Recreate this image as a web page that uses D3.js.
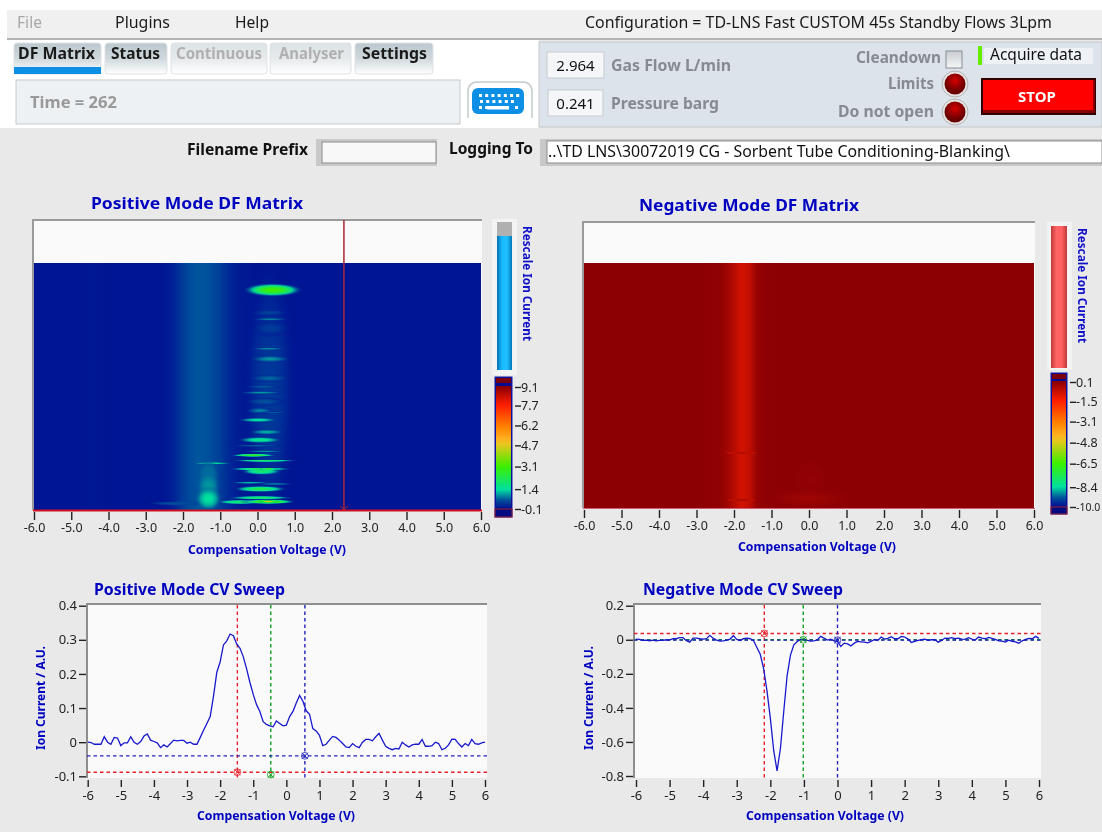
<!DOCTYPE html>
<html>
<head>
<meta charset="utf-8">
<title>TD-LNS DF Matrix</title>
<script src="https://cdn.jsdelivr.net/npm/d3@7"></script>
<style>
    html, body { margin: 0; padding: 0; background: #e9e9e9; overflow: hidden; }
    svg { display: block; filter: blur(0.45px); }
    text { font-family: "Noto Sans", "Open Sans", sans-serif; }
    .tick text { font-size: 12.5px; fill: #222; }
    .big .tick text { font-size: 13px; }
    .tick line { stroke: #222; stroke-width: 1.4; }
    .domain { display: none; }
</style>
</head>
<body>
<script>
// CV sweeps, one value every 0.1 V from -6 to 6
const posSweep = [
    0.000, -0.001, -0.006, -0.006, -0.006, 0.016, 0.000, -0.006, 0.014, 0.012,
    -0.010, -0.002, -0.002, 0.016, 0.000, -0.006, 0.002, 0.018, 0.024, 0.006,
    0.002, -0.002, -0.016, -0.008, -0.014, -0.004, 0.006, 0.004, 0.005, 0.005,
    -0.003, 0.000, -0.006, -0.006, 0.014, 0.035, 0.055, 0.075, 0.135, 0.205,
    0.235, 0.285, 0.297, 0.317, 0.312, 0.288, 0.275, 0.250, 0.215, 0.175,
    0.140, 0.110, 0.090, 0.060, 0.052, 0.048, 0.045, 0.062, 0.055, 0.048,
    0.050, 0.075, 0.090, 0.115, 0.137, 0.120, 0.092, 0.082, 0.040, 0.033,
    0.020, -0.010, -0.006, 0.006, 0.017, 0.014, 0.006, -0.004, -0.014, -0.016,
    -0.004, -0.012, -0.016, 0.000, 0.008, 0.008, 0.004, 0.016, 0.026, 0.006,
    -0.012, -0.018, -0.022, -0.018, -0.020, 0.000, -0.008, -0.014, -0.008, -0.006,
    -0.006, 0.008, -0.012, -0.012, -0.010, 0.000, -0.004, -0.022, -0.018, -0.008,
    0.009, 0.008, -0.004, -0.014, -0.004, -0.010, 0.008, -0.004, -0.006, -0.002,
    0.000
];
const negSweep = [
    0.004, 0.002, -0.004, -0.002, -0.006, -0.002, -0.006, -0.004, -0.004, 0.000,
    -0.002, 0.006, 0.006, 0.012, 0.012, -0.006, -0.014, 0.010, 0.010, 0.006,
    0.004, 0.006, 0.026, 0.008, -0.002, -0.008, -0.006, -0.002, 0.004, 0.024,
    0.002, -0.004, 0.006, 0.010, 0.006, -0.006, -0.045, -0.085, -0.170, -0.300,
    -0.460, -0.650, -0.770, -0.640, -0.420, -0.210, -0.090, -0.030, -0.010, 0.000,
    0.000, -0.004, -0.008, -0.006, 0.000, 0.020, 0.010, -0.002, 0.004, -0.006,
    -0.010, -0.040, -0.020, -0.024, -0.036, -0.020, -0.010, -0.012, -0.014, -0.018,
    -0.010, 0.002, -0.004, 0.016, 0.004, 0.008, 0.018, 0.006, 0.006, 0.020,
    0.016, 0.004, -0.016, -0.010, -0.004, 0.000, 0.004, -0.004, 0.000, 0.000,
    -0.014, -0.004, 0.010, 0.008, 0.012, 0.006, 0.010, 0.004, 0.002, 0.012,
    0.004, -0.002, 0.016, 0.010, 0.006, 0.014, 0.008, 0.002, -0.006, -0.008,
    -0.014, -0.002, -0.010, -0.012, -0.020, -0.006, 0.002, 0.008, 0.006, 0.020,
    0.008
];

// cursors on the sweeps: cv, level, colour, has a horizontal line
const posCursors = [[-1.48, -0.088, "#e8202c", true], [-0.47, -0.095, "#10a020", false], [0.56, -0.04, "#2222bb", true]];
const negCursors = [[-2.18, 0.037, "#e8202c", true], [-1.02, 0.0, "#10a020", true], [0.0, -0.002, "#2222bb", true]];

// matrix background per CV column, one value every 0.2 V from -6 to 6
const posColumns = [
    0, 0, 0, 0, 0, 0, 0, 0.02, 0.03, 0.02, 0, 0, 0, 0, 0, 0, 0, 0,
    0.04, 0.18, 0.40, 0.55, 0.62, 0.60, 0.52, 0.40, 0.22, 0.10, 0.05, 0.03,
    0, 0, 0, 0, 0, 0, 0, 0, 0, 0, 0, 0, 0, 0, 0, 0, 0, 0, 0, 0, 0, 0, 0, 0, 0, 0, 0, 0, 0, 0, 0
];
const negColumns = [
    0.1, 0.1, 0.1, 0.1, 0.1, 0.1, 0.1, 0.1, 0.1, 0.1, 0.1, 0.1, 0.1, 0.1, 0.1, 0.1, 0.1,
    0.08, 0.05, -0.10, -0.40, -0.75, -0.55, -0.05, 0.07, 0.09,
    0.1, 0.1, 0.1, 0.1, 0.1, 0.1, 0.1, 0.1, 0.1, 0.1, 0.1, 0.1, 0.1, 0.1, 0.1, 0.1, 0.1, 0.1, 0.1, 0.1,
    0.1, 0.1, 0.1, 0.1, 0.1, 0.1, 0.1, 0.1, 0.1, 0.1, 0.1, 0.1, 0.1, 0.1, 0.1
];

// features in the matrices: cv, time, half width (V), half height (time), peak ion current
const posSpots = [
    [0.33, 125, 0.55, 112, 0.36], [0.35, 192.7, 0.40, 7, 0.40], [0.32, 209.3, 0.40, 2.8, 0.45],
    [-2.0, 7, 0.70, 1.8, 0.55], [0.20, 115, 0.43, 3.5, 0.60], [0.32, 139.7, 0.45, 3.2, 0.75],
    [0.34, 202.3, 0.40, 1.4, 0.90], [0.29, 171.1, 0.40, 1.4, 0.95], [0.34, 160.2, 0.45, 3.2, 1.00],
    [0.16, 130.8, 0.40, 1.4, 0.70], [0.11, 124.5, 0.49, 1.4, 1.00], [0.07, 105.4, 0.31, 2.8, 0.90],
    [0.43, 103.3, 0.31, 1.1, 0.70], [0.02, 95.5, 0.45, 2.1, 1.50], [0.25, 82.7, 0.40, 2.5, 1.15],
    [-0.02, 68.2, 0.58, 1.1, 0.70], [0.07, 74.3, 0.49, 2.8, 1.70], [0.20, 62.2, 0.45, 1.1, 1.00],
    [-0.11, 58, 0.49, 1.4, 2.90], [0.20, 52.3, 0.72, 1.2, 2.10], [0.11, 41, 0.45, 3.2, 2.00],
    [0.07, 43.5, 0.72, 1.2, 2.40], [0.29, 43.5, 0.22, 0.7, 4.40], [-0.20, 29, 0.45, 1.2, 1.20],
    [0.47, 27.6, 0.45, 0.9, 1.00], [0.07, 22.3, 0.58, 2.8, 2.30], [0.07, 13, 0.72, 1.8, 2.00],
    [-0.47, 8.5, 0.54, 2.1, 2.00], [0.29, 8.8, 0.58, 2.1, 3.40], [0.29, 8.8, 0.20, 1.1, 4.80],
    [-1.23, 49.5, 0.40, 1.1, 1.50], [-1.32, 36, 0.22, 14, 0.80], [-1.32, 24, 0.24, 14, 1.00],
    [-1.32, 12, 0.27, 10, 1.45], [0.41, 233.4, 0.63, 5.7, 3.20]
];
const negSpots = [
    [0.05, 30, 0.35, 18, 0.02], [0.0, 10, 0.9, 9, -0.08],
    [-1.8, 59, 0.35, 1.2, -0.30], [-1.8, 8.5, 0.35, 1.0, -0.20]
];

const cvTicks = d3.range(-6, 7);
const posSweepTicks = [-0.1, 0, 0.1, 0.2, 0.3, 0.4];
const negSweepTicks = [-0.8, -0.6, -0.4, -0.2, 0, 0.2];
const posBarTicks = [9.1, 7.7, 6.2, 4.7, 3.1, 1.4, -0.1];
const negBarTicks = [0.1, -1.5, -3.1, -4.8, -6.5, -8.4, -10.0];
const matrixCursorCv = 2.32;
const matrixTime = 262;

// rainbow of the intensity graphs, low to high
const rampStops = [0, 0.075, 0.163, 0.35, 0.53, 0.58, 0.68, 0.85, 0.93, 1];
const rampColors = ["#000b92", "#00509c", "#00e0a0", "#3cf000", "#e6c81e", "#ffb020", "#ff8000", "#ff2000", "#c81000", "#8c0004"];
const ramp = d3.scaleLinear().domain(rampStops).range(rampColors).clamp(true);

// spots are drawn a bit larger than the bright core that was measured
const spotSpread = 1.35;

const svg = d3.select("body").append("svg").attr("width", 1102).attr("height", 832);
const defs = svg.append("defs");
let uid = 0;

function label(x, y, str, size, color, opts = {}) {
    const t = svg.append("text")
        .attr("x", x).attr("y", y)
        .attr("font-size", size)
        .attr("fill", color)
        .attr("font-weight", opts.bold ? 700 : 400)
        .attr("text-anchor", opts.anchor || "start")
        .text(str);
    if (opts.width) t.attr("textLength", opts.width).attr("lengthAdjust", "spacingAndGlyphs");
    return t;
}

function box(x, y, w, h, fill, stroke, r) {
    return svg.append("rect")
        .attr("x", x).attr("y", y).attr("width", w).attr("height", h)
        .attr("fill", fill).attr("stroke", stroke || "none").attr("rx", r || 0);
}

function vGradient(stops, horizontal) {
    const id = "g" + (uid++);
    const g = defs.append("linearGradient").attr("id", id)
        .attr("x1", 0).attr("y1", 0)
        .attr("x2", horizontal ? 1 : 0).attr("y2", horizontal ? 0 : 1);
    stops.forEach((c, i) => g.append("stop").attr("offset", i / (stops.length - 1)).attr("stop-color", c));
    return `url(#${id})`;
}

function led(cx, cy) {
    const id = "g" + (uid++);
    const g = defs.append("radialGradient").attr("id", id).attr("cy", "35%");
    g.append("stop").attr("offset", "0").attr("stop-color", "#d40000");
    g.append("stop").attr("offset", "1").attr("stop-color", "#6a0000");
    svg.append("circle").attr("cx", cx).attr("cy", cy).attr("r", 13).attr("fill", "#e4e4e4").attr("stroke", "#b4b4b4");
    svg.append("circle").attr("cx", cx).attr("cy", cy).attr("r", 10.5).attr("fill", `url(#${id})`);
}

function drawChrome() {
    box(0, 0, 1102, 832, "#e9e9e9");
    box(0, 0, 1102, 10, "#ffffff");
    box(0, 10, 7, 118, "#ffffff");
    box(7, 10, 1095, 28, "#f0f0f0");
    box(7, 38, 1095, 2, "#b4b4b4");
    box(7, 40, 532, 88, "#ffffff");

    label(17, 28, "File", 16, "#a8a8a8", { width: 25 });
    label(115, 28, "Plugins", 16, "#1a1a1a", { width: 55 });
    label(235, 28, "Help", 16, "#1a1a1a", { width: 34 });
    label(585, 28, "Configuration = TD-LNS Fast CUSTOM 45s Standby Flows 3Lpm", 16, "#1a1a1a", { width: 467 });

    // tabs
    const tabs = [
        [14, 87, 18, 77, "DF Matrix", "#1a1a1a"], [105, 62, 111, 49, "Status", "#1a1a1a"],
        [171, 96, 176, 86, "Continuous", "#b0b0b0"], [270, 81, 279, 65, "Analyser", "#b0b0b0"],
        [355, 78, 362, 65, "Settings", "#1a1a1a"]
    ];
    const tabFill = vGradient(["#bcc8ce", "#cfd8dc", "#ffffff"]);
    const tabFillOff = vGradient(["#dde3e6", "#e6eaec", "#ffffff"]);
    tabs.forEach(t => {
        box(t[0], 43, t[1], 31, t[5] === "#b0b0b0" ? tabFillOff : tabFill, "#dfe2e4", 3);
        label(t[2], 59, t[4], 16, t[5], { bold: true, width: t[3] });
    });
    box(14, 67, 87, 7, "#0d8fe6");

    box(16, 80, 444, 44, "#eef1f3", "#c8c8c8");
    label(30, 108, "Time = " + matrixTime, 16, "#999999", { bold: true, width: 87 });

    // keyboard button
    svg.append("path").attr("d", "M468,118V92q0,-10 10,-10h44q10,0 10,10V118")
        .attr("fill", "#ffffff").attr("stroke", "#c4cace").attr("stroke-width", 1.5);
    box(472, 88, 52, 26, "#0d8fe6", null, 6);
    [[479, 94, 7], [480, 100, 6], [479, 106, 2]].forEach(r => {
        d3.range(r[2]).forEach(i => box(r[0] + i * 6.2, r[1], 3, 3, "#ffffff"));
    });
    box(487, 106, 22, 3.5, "#ffffff");
    box(515, 106, 3, 3, "#ffffff");

    // right hand panel
    box(539, 42, 563, 85, "#dde3ea", "#c4c8cc");
    box(547, 52, 57, 26, "#f4f6f7", "#c8ccd0");
    label(575.5, 71, "2.964", 15, "#111111", { anchor: "middle" });
    label(611, 71, "Gas Flow  L/min", 15.5, "#858b90", { bold: true, width: 120 });
    box(548, 90, 55, 26, "#f4f6f7", "#c8ccd0");
    label(575.5, 109, "0.241", 15, "#111111", { anchor: "middle" });
    label(611, 109, "Pressure  barg", 15.5, "#858b90", { bold: true, width: 108 });

    label(856, 63, "Cleandown", 16, "#858b90", { bold: true, width: 85 });
    box(946, 51, 16, 17, vGradient(["#c8ccd0", "#f4f6f7"]), "#8a8e92");
    label(888, 89, "Limits", 16, "#858b90", { bold: true, width: 46 });
    label(838, 117, "Do not open", 16, "#858b90", { bold: true, width: 96 });
    led(955, 84);
    led(955, 112);

    box(984, 48, 109, 16, "#eef2f6");
    box(978, 46, 4, 19, "#66ee00");
    label(990, 60, "Acquire data", 15.5, "#111111", { width: 92 });

    box(981, 78, 115, 37, "#300000");
    box(983, 80, 112, 33, "#8a0000");
    box(983, 80, 110, 30, "#ff0000");
    label(1037, 102, "STOP", 15, "#ffffff", { bold: true, anchor: "middle" });

    // logging row
    label(187, 155, "Filename Prefix", 16, "#111111", { bold: true, width: 121 });
    box(316, 139, 121, 27, "#c8c8c8");
    box(322, 142, 114, 21, "#f8f8f8", "#8c8c8c");
    label(449, 154, "Logging To", 16, "#111111", { bold: true, width: 84 });
    box(540, 139, 562, 27, "#c8c8c8");
    box(547, 141, 555, 22, "#ffffff", "#8c8c8c");
    label(548, 157, "..\\TD LNS\\30072019 CG - Sorbent Tube Conditioning-Blanking\\", 16, "#111111", { width: 462 });
}

function drawMatrix(o) {
    const x = d3.scaleLinear().domain([-6, 6]).range(o.xRange);
    const y = d3.scaleLinear().domain([0, matrixTime]).range([o.bottom, o.heatTop]);
    const level = v => ramp((v - o.low) / (o.high - o.low));
    const heatW = o.xRange[1] - o.xRange[0];

    label(o.titleX, o.titleY, o.title, 16.5, "#0000c0", { bold: true, width: o.titleW });

    // empty part of the matrix and its frame
    box(o.xRange[0], o.top, heatW + 1, o.bottom - o.top, "#fafafa");
    svg.append("path")
        .attr("d", `M${o.xRange[0] - 1},${o.bottom}V${o.top}H${o.xRange[1] + 1}`)
        .attr("fill", "none").attr("stroke", "#9a9a9a").attr("stroke-width", 2);

    // columns as one gradient, stops placed by the x scale
    const id = "g" + (uid++);
    const columnGradient = defs.append("linearGradient").attr("id", id);
    o.columns.forEach((v, i) => {
        const cv = -6 + i * 0.2;
        columnGradient.append("stop")
            .attr("offset", (x(cv) - o.xRange[0]) / heatW)
            .attr("stop-color", level(v));
    });
    box(o.xRange[0], y(matrixTime), heatW, y(0) - y(matrixTime), `url(#${id})`);

    const clipId = "c" + (uid++);
    defs.append("clipPath").attr("id", clipId).append("rect")
        .attr("x", o.xRange[0]).attr("y", o.heatTop).attr("width", heatW).attr("height", o.bottom - o.heatTop);

    // spots fade from their peak down to the level of the column under them
    const spots = svg.append("g").attr("clip-path", `url(#${clipId})`);
    o.spots.forEach(d => {
        const base = o.columns[Math.round((d[0] + 6) / 0.2)];
        const gid = "g" + (uid++);
        const g = defs.append("radialGradient").attr("id", gid);
        d3.range(0, 1.01, 0.125).forEach(f => {
            const v = base + (d[4] - base) * Math.pow(1 - f * f, 1.5);
            g.append("stop").attr("offset", f)
                .attr("stop-color", level(v))
                .attr("stop-opacity", Math.min(1, (1 - f) * 2.5));
        });
        spots.append("ellipse")
            .attr("cx", x(d[0])).attr("cy", y(d[1]))
            .attr("rx", (x(d[2]) - x(0)) * spotSpread).attr("ry", (y(0) - y(d[3])) * spotSpread)
            .attr("fill", `url(#${gid})`);
    });

    svg.append("line").attr("x1", o.xRange[0] - 1).attr("x2", o.xRange[1] + 1)
        .attr("y1", o.bottom + 0.5).attr("y2", o.bottom + 0.5)
        .attr("stroke", o.bottomColor).attr("stroke-width", o.bottomWidth);

    if (o.cursor) {
        const cx = x(o.cursor);
        svg.append("line").attr("x1", cx).attr("x2", cx).attr("y1", o.top).attr("y2", o.bottom)
            .attr("stroke", "#a82838").attr("stroke-width", 1.5);
        svg.append("path").attr("d", `M${cx - 4},${o.bottom - 4}L${cx},${o.bottom}L${cx + 4},${o.bottom - 4}`)
            .attr("fill", "none").attr("stroke", "#a82838");
    }

    svg.append("g").attr("transform", `translate(0,${o.bottom + 2})`)
        .call(d3.axisBottom(x).tickValues(cvTicks).tickSize(8).tickPadding(3).tickFormat(d => d.toFixed(1)));

    label(o.xTitleX, o.xTitleY, "Compensation Voltage (V)", 12, "#0000c0", { bold: true, width: 158 });

    // rescale slider
    const s = o.slider;
    box(s[0], s[1], s[2], s[3], "#f3f3f3");
    box(s[4], s[5], s[6], s[7] - s[5], "#b0b0b0");
    box(s[4], s[8], s[6], s[7] - s[8], vGradient(o.sliderColors, true));
    label(0, 0, "Rescale Ion Current", 12, "#1010c8", { bold: true, width: 115 })
        .attr("transform", `translate(${o.rescaleX},${o.rescaleY}) rotate(90)`);

    // colour ramp
    const bar = o.bar;
    const barY = d3.scaleLinear().domain(o.barDomain).range([bar.bottom, bar.top]);
    box(bar.x, bar.capTop, bar.w, bar.capBottom - bar.capTop, "#000b92", "#1818a0");
    const values = d3.range(o.barDomain[0], o.barDomain[1] + 0.001, 0.05);
    svg.append("g").selectAll("rect").data(values).join("rect")
        .attr("x", bar.x + 1).attr("width", bar.w - 2)
        .attr("y", d => barY(d) - 1).attr("height", 1.6)
        .attr("fill", d => level(d));
    box(bar.x + 1, bar.capTop + 1, bar.w - 2, 5, "#7a0010");
    box(bar.x, bar.bottom, bar.w, bar.capBottom - bar.bottom, "#000b82", "#a02030");
    const barAxis = svg.append("g").attr("transform", `translate(${bar.x + bar.w + 3},0)`)
        .call(d3.axisRight(barY).tickValues(o.barTicks).tickSize(6).tickPadding(0).tickFormat(d => d.toFixed(1)));
    // -10.0 has to stay inside the window
    barAxis.selectAll("text").filter(d => d === -10).style("font-size", "10.5px");
}

function drawSweep(o) {
    const x = d3.scaleLinear().domain([-6, 6]).range(o.xRange);
    const y = d3.scaleLinear().domain(o.yDomain).range(o.yRange);
    const p = o.plot;

    label(o.titleX, 595, o.title, 15.5, "#0000c0", { bold: true, width: o.titleW });

    box(p[0], p[1], p[2] - p[0], p[3] - p[1], "#fafafa");
    svg.append("path").attr("d", `M${p[0]},${p[3]}V${p[1]}H${p[2]}`)
        .attr("fill", "none").attr("stroke", "#8e8e8e").attr("stroke-width", 2);

    svg.append("g").attr("class", "big").attr("transform", `translate(0,${p[3] + 2})`)
        .call(d3.axisBottom(x).tickValues(cvTicks).tickSize(7).tickPadding(4).tickFormat(d => d));
    svg.append("g").attr("class", "big").attr("transform", `translate(${p[0] - 1},0)`)
        .call(d3.axisLeft(y).tickValues(o.yTicks).tickSize(7).tickPadding(2).tickFormat(d => d));

    const clipId = "c" + (uid++);
    defs.append("clipPath").attr("id", clipId).append("rect")
        .attr("x", p[0]).attr("y", p[1]).attr("width", p[2] - p[0]).attr("height", p[3] - p[1]);
    const plot = svg.append("g").attr("clip-path", `url(#${clipId})`);

    o.cursors.forEach(c => {
        plot.append("line").attr("x1", x(c[0])).attr("x2", x(c[0])).attr("y1", p[1] + 1).attr("y2", p[3])
            .attr("stroke", c[2]).attr("stroke-width", 1.4).attr("stroke-dasharray", "3.5 3");
        if (c[3]) {
            plot.append("line").attr("x1", p[0]).attr("x2", p[2]).attr("y1", y(c[1])).attr("y2", y(c[1]))
                .attr("stroke", c[2]).attr("stroke-width", 1.4).attr("stroke-dasharray", "3.5 3");
        }
    });

    const line = d3.line().x((d, i) => x(-6 + i * 0.1)).y(d => y(d));
    plot.append("path").datum(o.series).attr("d", line)
        .attr("fill", "none").attr("stroke", "#1818cc").attr("stroke-width", 1.3);

    o.cursors.forEach(c => {
        const at = `translate(${x(c[0])},${y(c[1])})`;
        svg.append("path").attr("transform", at).attr("d", d3.symbol(d3.symbolTimes, 26)())
            .attr("fill", "none").attr("stroke", c[2]);
        svg.append("circle").attr("transform", at).attr("r", 3.4)
            .attr("fill", "none").attr("stroke", c[2]).attr("stroke-width", 0.8);
    });

    label(o.xTitleX, 820, "Compensation Voltage (V)", 12, "#0000c0", { bold: true, width: 158 });
    label(0, 0, "Ion Current / A.U.", 12, "#0000c0", { bold: true, width: 104, anchor: "middle" })
        .attr("transform", `translate(${o.yTitleX},698) rotate(-90)`);
}

drawChrome();

drawMatrix({
    title: "Positive Mode DF Matrix", titleX: 91, titleY: 209, titleW: 212,
    xRange: [34, 481], top: 220, heatTop: 263, bottom: 510,
    low: -0.1, high: 9.1, columns: posColumns, spots: posSpots,
    cursor: matrixCursorCv, bottomColor: "#d01020", bottomWidth: 2,
    xTitleX: 188, xTitleY: 554,
    slider: [492, 219, 25, 156, 497, 222, 15, 370, 236],
    sliderColors: ["#0070b0", "#18b8ff", "#20c0ff", "#0078b8"],
    rescaleX: 523, rescaleY: 226,
    bar: { x: 495, w: 17, capTop: 377, top: 387, bottom: 509, capBottom: 517 },
    barDomain: [-0.1, 9.1], barTicks: posBarTicks
});

drawMatrix({
    title: "Negative Mode DF Matrix", titleX: 639, titleY: 211, titleW: 220,
    xRange: [584, 1034], top: 222, heatTop: 263, bottom: 508,
    low: -10, high: 0.1, columns: negColumns, spots: negSpots,
    cursor: null, bottomColor: "#d06070", bottomWidth: 1,
    xTitleX: 738, xTitleY: 551,
    slider: [1047, 222, 25, 148, 1051, 226, 16, 368, 226],
    sliderColors: ["#c03838", "#ff6464", "#ff6060", "#c03838"],
    rescaleX: 1078, rescaleY: 228,
    bar: { x: 1051, w: 16, capTop: 373, top: 382, bottom: 507, capBottom: 514 },
    barDomain: [-10, 0.1], barTicks: negBarTicks
});

drawSweep({
    title: "Positive Mode CV Sweep", titleX: 94, titleW: 191,
    xRange: [87.7, 485], yDomain: [-0.1, 0.4], yRange: [776.3, 605.7],
    plot: [87, 604, 487, 778], yTicks: posSweepTicks, series: posSweep, cursors: posCursors,
    xTitleX: 197, yTitleX: 45
});

drawSweep({
    title: "Negative Mode CV Sweep", titleX: 643, titleW: 200,
    xRange: [636, 1039], yDomain: [-0.8, 0.2], yRange: [776, 605.7],
    plot: [634, 604, 1041, 778], yTicks: negSweepTicks, series: negSweep, cursors: negCursors,
    xTitleX: 746, yTitleX: 593
});
</script>
</body>
</html>
